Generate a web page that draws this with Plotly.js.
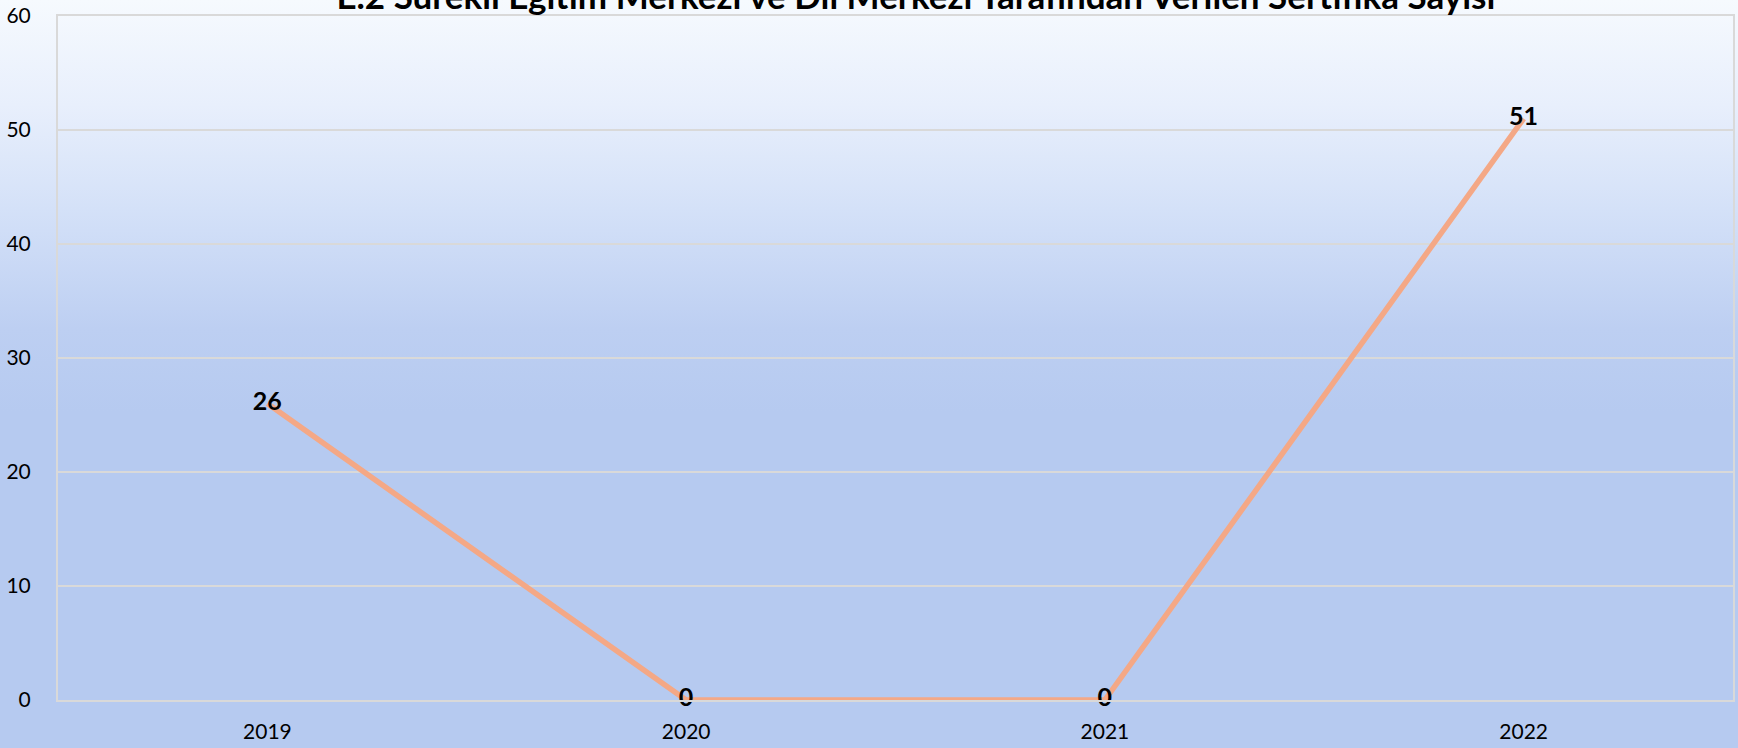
<!DOCTYPE html>
<html>
<head>
<meta charset="utf-8">
<script src="https://cdn.plot.ly/plotly-3.0.1.min.js"></script>
<style>
  html, body { margin: 0; padding: 0; width: 1738px; height: 748px; overflow: hidden; }
  body { background: linear-gradient(to bottom, #f6fafe 0%, #e8effc 14%, #d4e1f8 28%, #bdcff2 44%, #b6caf0 55%, #b6caf0 100%); }
  #chart { width: 1738px; height: 748px; }
</style>
</head>
<body>
<div id="chart"></div>
<script>
const titleText = "E.2 Sürekli Eğitim Merkezi ve Dil Merkezi Tarafından Verilen Sertifika Sayısı";
const years = ["2019", "2020", "2021", "2022"];
const certificates = [26, 0, 0, 51];
const yTicks = [0, 10, 20, 30, 40, 50, 60];

const baseFont = "Lato, 'Open Sans', sans-serif";

const trace = {
  type: "scatter",
  mode: "lines+text",
  x: years,
  y: certificates,
  text: certificates.map(String),
  textposition: "middle center",
  textfont: { family: baseFont, size: 25, color: "#000000", weight: "bold" },
  line: { color: "#F4A886", width: 5.5 },
  cliponaxis: false,
  hoverinfo: "skip"
};

const layout = {
  width: 1738,
  height: 748,
  paper_bgcolor: "rgba(0,0,0,0)",
  plot_bgcolor: "rgba(0,0,0,0)",
  margin: { l: 58, r: 5, t: 16, b: 48 },
  showlegend: false,
  font: { family: baseFont, size: 21, color: "#000000" },
  title: {
    text: "<b>" + titleText + "</b>",
    font: { family: baseFont, size: 35, color: "#000000" },
    x: 0.527,
    xref: "container",
    xanchor: "center",
    yref: "container",
    y: 0.9877,
    yanchor: "bottom"
  },
  xaxis: {
    type: "category",
    range: [-0.5, 3.5],
    showgrid: false,
    zeroline: false,
    showline: true,
    mirror: true,
    linecolor: "#d9d9d9",
    linewidth: 2,
    ticks: "",
    ticklabelstandoff: 12,
    tickfont: { family: baseFont, size: 21, color: "#000000" },
    fixedrange: true
  },
  yaxis: {
    range: [0, 60],
    tickvals: yTicks,
    showgrid: true,
    gridcolor: "#d9d9d9",
    gridwidth: 1.5,
    zeroline: false,
    showline: true,
    mirror: true,
    linecolor: "#d9d9d9",
    linewidth: 2,
    ticks: "",
    ticklabelstandoff: 21,
    tickfont: { family: baseFont, size: 21, color: "#000000" },
    fixedrange: true
  }
};

Plotly.newPlot("chart", [trace], layout, { displayModeBar: false, staticPlot: true });
</script>
</body>
</html>
